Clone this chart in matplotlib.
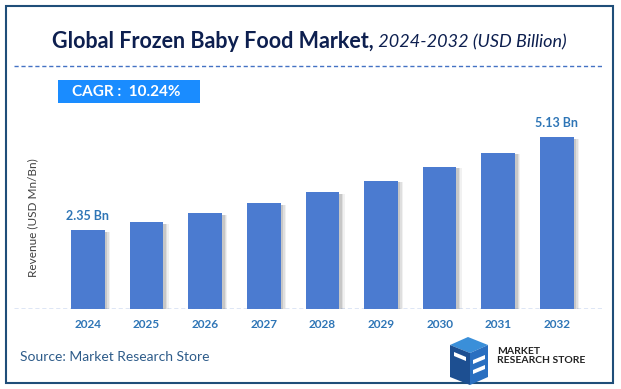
import matplotlib
matplotlib.use("Agg")
import matplotlib.pyplot as plt
from matplotlib.patches import Rectangle, Polygon
import matplotlib.patheffects as pe

years = ["2024", "2025", "2026", "2027", "2028", "2029", "2030", "2031", "2032"]
revenue = [2.35, 2.59, 2.86, 3.16, 3.48, 3.82, 4.24, 4.66, 5.13]
label_idx = [0, 8]
title_bold = "Global Frozen Baby Food Market,"
title_ital = " 2024-2032 (USD Billion)"
cagr_text = "CAGR :  10.24%"
ylabel = "Revenue (USD Mn/Bn)"
source = "Source: Market Research Store"

W, H = 621, 389
plt.rcParams['font.family'] = ['Lato', 'DejaVu Sans']
fig = plt.figure(figsize=(W / 100, H / 100), dpi=100)

def fx(px):
    return px / W

def fy(py):
    return 1 - py / H

# border
fig.patches.append(Rectangle((fx(6), fy(383)), fx(607), (377) / H, transform=fig.transFigure,
                             fill=False, edgecolor='#1f4e79', lw=1.5))

# axes
left, right, top, base = 14, 604, 110, 309
ax = fig.add_axes([fx(left), fy(base), (right - left) / W, (base - top) / H])
scale = 33.5
unit = 58.6
ax.set_xlim((left - 88) / unit, (right - 88) / unit)
ax.set_ylim(0, (base - top) / scale)
x = list(range(len(years)))
bars = ax.bar(x, revenue, width=0.57, color='#4b7bd0', zorder=3)
for b in bars:
    b.set_path_effects([pe.SimplePatchShadow(offset=(4, -1), shadow_rgbFace='#909090', alpha=0.12),
                        pe.SimplePatchShadow(offset=(3, -1), shadow_rgbFace='#909090', alpha=0.18),
                        pe.SimplePatchShadow(offset=(2, -1), shadow_rgbFace='#808080', alpha=0.25),
                        pe.Normal()])
for i in label_idx:
    ax.text(x[i], revenue[i] + 0.25, f"{revenue[i]:.2f} Bn", ha='center', va='bottom',
            color='#2e75b6', fontsize=9, fontweight='bold')
for s in ax.spines.values():
    s.set_visible(False)
ax.set_yticks([])
ax.set_xticks(x)
ax.set_xticklabels(years, fontsize=8.5, fontweight='bold', color='#2e75b6')
ax.tick_params(axis='x', length=0, pad=7)
ax.axhline(0, color='#5b82cc', lw=1, ls=(0, (3, 2)), zorder=4)

# y label
fig.text(fx(33), fy(218), ylabel, rotation=90, ha='center', va='center', fontsize=8.5, color='#404040')

# top dashed line
fig.add_artist(plt.Line2D([fx(14), fx(604)], [fy(66), fy(66)], transform=fig.transFigure,
                          color='#4472c4', lw=1, ls=(0, (3, 2))))

# title
t1 = fig.text(fx(52), fy(41), title_bold, ha='left', va='center', fontsize=15.5, fontweight='bold',
              color='#0d1f4f')
fig.canvas.draw()
bb = t1.get_window_extent()
fig.text(bb.x1 / W, fy(42), title_ital, ha='left', va='center', fontsize=13, fontstyle='italic',
         color='#0d1f4f')

# CAGR box
fig.patches.append(Rectangle((fx(58), fy(103)), fx(142), 23 / H, transform=fig.transFigure,
                             facecolor='#1a8cff', edgecolor='none'))
fig.text(fx(72), fy(91.5), cagr_text, ha='left', va='center', fontsize=11, fontweight='bold', color='white')

# source
fig.text(fx(20), fy(357), source, ha='left', va='center', fontsize=10, color='#2e5c8a')

# logo
def poly(pts, color):
    fig.patches.append(Polygon([(fx(a), fy(b)) for a, b in pts], closed=True, transform=fig.transFigure,
                               facecolor=color, edgecolor='none'))
poly([(450, 345), (468, 337), (488, 345), (470, 353)], '#3a8fd9')
poly([(450, 345), (470, 353), (470, 385), (450, 377)], '#1d4f91')
poly([(470, 353), (488, 345), (488, 377), (470, 385)], '#2a6fc0')
poly([(454, 352), (466, 357), (466, 361), (454, 356)], '#ffffff')
poly([(473, 360), (485, 355), (485, 359), (473, 364)], '#ffffff')
poly([(473, 370), (485, 365), (485, 369), (473, 374)], '#ffffff')
fig.text(fx(497), fy(356), "MARKET\nRESEARCH STORE", ha='left', va='center', fontsize=7.5,
         fontweight='bold', color='#222222', linespacing=0.95)

fig.savefig("out.png", dpi=100)
